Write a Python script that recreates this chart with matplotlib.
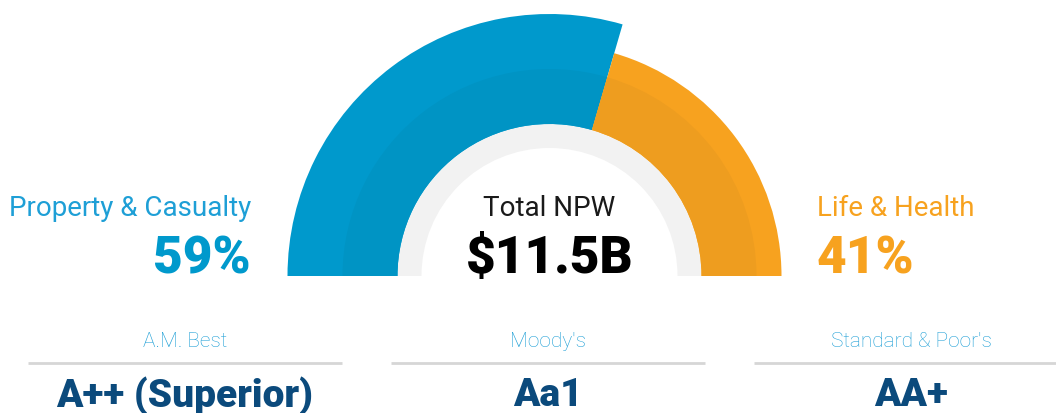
import matplotlib.pyplot as plt
from matplotlib.patches import Wedge
import numpy as np

segments = ['Property & Casualty', 'Life & Health']
shares = [59, 41]
total_label = 'Total NPW'
total_value = '$11.5B'
agencies = ['A.M. Best', "Moody's", "Standard & Poor's"]
ratings = ['A++ (Superior)', 'Aa1', 'AA+']

blue = '#0099cc'
blue_dark = '#0094c4'
orange = '#f7a21f'
orange_dark = '#ee9d1f'
navy = '#0b4a7c'

W, H = 1056, 414
fig = plt.figure(figsize=(W / 100, H / 100), dpi=100)
ax = fig.add_axes([0, 0, 1, 1])
ax.set_xlim(0, W)
ax.set_ylim(0, H)
ax.axis('off')

cx, cy = 549.5, H - 277
split = 180 - shares[0] * 1.8

# gray inner ring
ax.add_patch(Wedge((cx, cy), 152, 0, 180, width=24, color='#f2f2f2', lw=0))
# blue segment (bigger radius)
ax.add_patch(Wedge((cx, cy), 262, split, 180, width=110, color=blue, lw=0))
ax.add_patch(Wedge((cx, cy), 207, split, 180, width=55, color=blue_dark, lw=0))
# orange segment
ax.add_patch(Wedge((cx, cy), 232, 0, split, width=80, color=orange, lw=0))
ax.add_patch(Wedge((cx, cy), 207, 0, split, width=55, color=orange_dark, lw=0))

font = 'Roboto'
ax.text(251, H - 209, segments[0], ha='right', va='center', fontsize=20,
        color='#1e9fd6', family=font, weight='normal')
ax.text(251, H - 259, f'{shares[0]}%', ha='right', va='center', fontsize=37,
        color=blue, family=font, weight='black')
ax.text(817, H - 209, segments[1], ha='left', va='center', fontsize=20,
        color=orange, family=font, weight='normal')
ax.text(817, H - 259, f'{shares[1]}%', ha='left', va='center', fontsize=37,
        color=orange, family=font, weight='black')

ax.text(cx, H - 209, total_label, ha='center', va='center', fontsize=20,
        color='#1a1a1a', family=font, weight='normal')
ax.text(cx, H - 259, total_value, ha='center', va='center', fontsize=37,
        color='black', family=font, weight='black')

centers = [185, 548, 911]
for c, name, rating in zip(centers, agencies, ratings):
    ax.text(c, H - 342, name, ha='center', va='center', fontsize=15,
            color='#1e9fd6', family=font, weight='light')
    ax.plot([c - 157, c + 157], [H - 364, H - 364], color='#d6d6d6', lw=2,
            solid_capstyle='butt')
    ax.text(c, H - 396, rating, ha='center', va='center', fontsize=28,
            color=navy, family=font, weight='black')

fig.savefig('out.png', dpi=100)
